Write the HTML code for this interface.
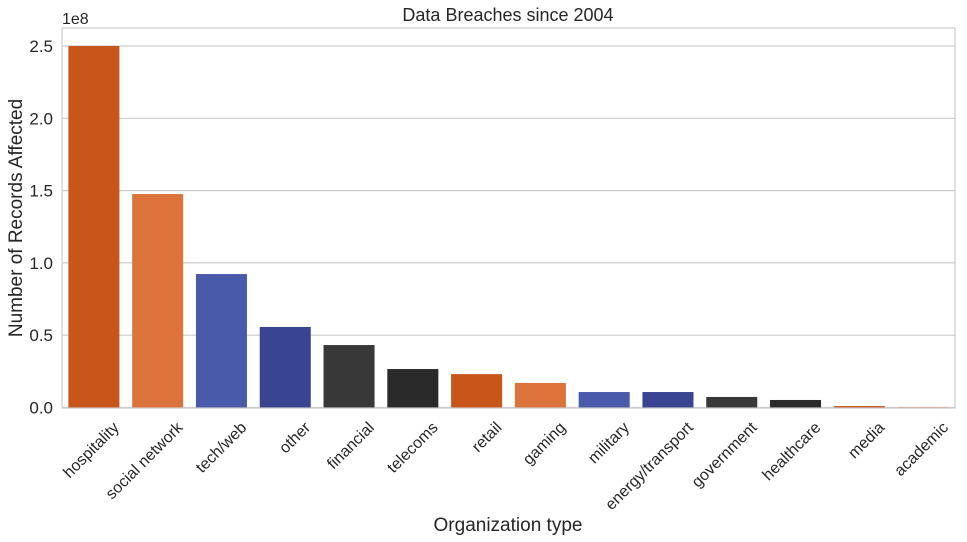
<!DOCTYPE html>
<html><head><meta charset="utf-8"><style>
body{margin:0;background:#fff;}
svg{display:block;font-family:"Liberation Sans","DejaVu Sans",sans-serif;}
</style></head><body>
<svg id="chart" width="967" height="542">
<text x="508" y="21" text-anchor="middle" font-size="18" fill="#262626">Data Breaches since 2004</text>
<text x="62" y="24" font-size="16" fill="#262626">1e8</text>
<text transform="translate(22,218) rotate(-90)" text-anchor="middle" font-size="19" fill="#262626">Number of Records Affected</text>
<text x="508" y="531" text-anchor="middle" font-size="19" fill="#262626">Organization type</text>
<g id="grid"></g><g id="bars"></g><g id="xt"></g>
<rect x="62" y="28" width="893" height="380" fill="none" stroke="#cccccc" stroke-width="1.2"/>
</svg>
<script>
const categories=["hospitality","social network","tech/web","other","financial","telecoms","retail","gaming","military","energy/transport","government","healthcare","media","academic"];
const values=[2.5,1.476,0.923,0.557,0.432,0.266,0.231,0.17,0.107,0.107,0.073,0.052,0.01,0.002];
const yTicks=[0,0.5,1.0,1.5,2.0,2.5];
const yTickLabels=["0.0","0.5","1.0","1.5","2.0","2.5"];
const colors=["#c8561b","#db733b","#4a5aab","#3a4592","#383838","#2a2a2a"];
const ns="http://www.w3.org/2000/svg";
const L=62,R=955,T=28,B=407.5,ymax=2.5,ytop=46;
const y=v=>B-(B-ytop)*v/ymax;
const bw=(R-L)/categories.length;
const x=i=>L+bw*i;
const g=document.getElementById('grid'),bg=document.getElementById('bars'),xt=document.getElementById('xt');
yTicks.forEach((t,i)=>{
 const l=document.createElementNS(ns,'line');
 l.setAttribute('x1',L);l.setAttribute('x2',R);l.setAttribute('y1',y(t));l.setAttribute('y2',y(t));
 l.setAttribute('stroke','#cccccc');l.setAttribute('stroke-width','1.2');
 
 
 g.appendChild(l);
 const tx=document.createElementNS(ns,'text');
 tx.setAttribute('x',L-9);tx.setAttribute('y',y(t)+6);tx.setAttribute('text-anchor','end');
 tx.setAttribute('font-size','17');tx.setAttribute('fill','#262626');tx.textContent=yTickLabels[i];
 
 
 g.appendChild(tx);
});
categories.forEach((c,i)=>{
 const r=document.createElementNS(ns,'rect');
 const w=bw*0.8;
 r.setAttribute('x',x(i)+bw*0.1);r.setAttribute('width',w);
 r.setAttribute('y',y(values[i]));r.setAttribute('height',B-y(values[i]));
 r.setAttribute('fill',colors[i%colors.length]);
 
 
 bg.appendChild(r);
 const cx=x(i)+bw/2+26, cy=B+21;
 const tx=document.createElementNS(ns,'text');
 tx.setAttribute('transform',`translate(${cx},${cy}) rotate(-45)`);
 tx.setAttribute('text-anchor','end');tx.setAttribute('font-size','16');tx.setAttribute('fill','#262626');
 tx.textContent=c;
 
 
 xt.appendChild(tx);
});
</script>
</body></html>
